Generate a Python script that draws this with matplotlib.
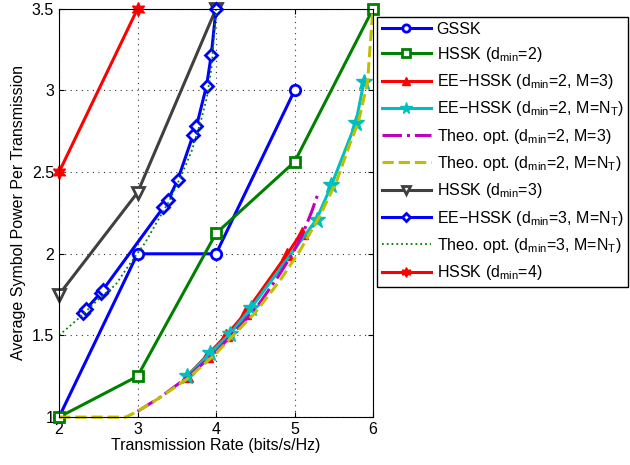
import numpy as np
import matplotlib
matplotlib.use("Agg")
import matplotlib.pyplot as plt

plt.rcParams['font.family'] = ['Liberation Sans', 'DejaVu Sans']
plt.rcParams['mathtext.fontset'] = 'custom'
plt.rcParams['mathtext.rm'] = 'Liberation Sans'

# data
gssk_x = [2, 3, 4, 5]
gssk_y = [1.0, 2.0, 2.0, 3.0]

hssk2_x = [2, 3, 4, 5, 6]
hssk2_y = [1.0, 1.25, 2.125, 2.5625, 3.5]

ee2m3_x = [3.63, 3.88, 4.13, 4.37, 4.91, 5.09]
ee2m3_y = [1.25, 1.375, 1.5, 1.635, 2.0, 2.13]

ee2nt_x = [3.63, 3.92, 4.18, 4.45, 5.28, 5.47, 5.78, 5.885]
ee2nt_y = [1.25, 1.39, 1.51, 1.67, 2.21, 2.42, 2.80, 3.055]

th2m3_x = [3.0, 3.3, 3.65, 4.0, 4.5, 4.79, 4.96, 5.09, 5.22, 5.30]
th2m3_y = [1.035, 1.125, 1.25, 1.40, 1.66, 1.86, 1.99, 2.105, 2.26, 2.37]

th2nt_x = [2.0, 2.5, 2.85, 3.0, 3.27, 3.65, 4.0, 4.5, 4.82, 5.07, 5.32, 5.54, 5.71, 5.81, 5.93, 5.96, 6.0]
th2nt_y = [1.0, 1.0, 1.0, 1.035, 1.115, 1.24, 1.39, 1.64, 1.84, 2.02, 2.23, 2.45, 2.68, 2.80, 3.05, 3.25, 3.5]

hssk3_x = [2, 3, 4]
hssk3_y = [1.75, 2.375, 3.5]

ee3nt_x = [2.31, 2.34, 2.53, 2.56, 3.33, 3.39, 3.51, 3.71, 3.75, 3.88, 3.94, 4.0]
ee3nt_y = [1.635, 1.66, 1.76, 1.78, 2.285, 2.33, 2.45, 2.73, 2.78, 3.03, 3.22, 3.5]

th3nt_x = [2.0, 2.25, 2.5, 2.72, 2.89, 3.10, 3.23, 3.40, 3.55, 3.69, 3.80, 3.88, 3.94, 3.97, 4.0]
th3nt_y = [1.5, 1.605, 1.72, 1.81, 1.93, 2.07, 2.18, 2.32, 2.47, 2.63, 2.80, 2.95, 3.13, 3.3, 3.5]

hssk4_x = [2, 3]
hssk4_y = [2.5, 3.5]

dm = r'd$_{\mathregular{min}}$'
nt = r'N$_{\mathregular{T}}$'

fig = plt.figure(figsize=(6.3, 4.65), dpi=100)
ax = fig.add_axes([0.0937, 0.103, 0.4984, 0.878])

lw = 2.2
kw = dict(lw=lw, clip_on=False)
ax.plot(gssk_x, gssk_y, '-o', color='#0000ff', ms=7.5, mfc='white', mew=2, label='GSSK', **kw)
ax.plot(hssk2_x, hssk2_y, '-s', color='#008000', ms=7.5, mfc='white', mew=2, label='HSSK (' + dm + '=2)', **kw)
ax.plot(ee2m3_x, ee2m3_y, '-^', color='#ff0000', ms=9, mew=1, label='EE\u2212HSSK (' + dm + '=2, M=3)', **kw)
ax.plot(ee2nt_x, ee2nt_y, '-*', color='#00bfbf', ms=12, mew=1, label='EE\u2212HSSK (' + dm + '=2, M=' + nt + ')', **kw)
ax.plot(th2m3_x, th2m3_y, '-.', color='#bf00bf', label='Theo. opt. (' + dm + '=2, M=3)', **kw)
ax.plot(th2nt_x, th2nt_y, '--', color='#bfbf00', label='Theo. opt. (' + dm + '=2, M=' + nt + ')', **kw)
ax.plot(hssk3_x, hssk3_y, '-v', color='#404040', ms=9, mfc='white', mew=2, label='HSSK (' + dm + '=3)', **kw)
ax.plot(ee3nt_x, ee3nt_y, '-D', color='#0000ff', ms=6, mfc='white', mew=2, label='EE\u2212HSSK (' + dm + '=3, M=' + nt + ')', **kw)
ax.plot(th3nt_x, th3nt_y, ':', color='#008000', lw=1.3, label='Theo. opt. (' + dm + '=3, M=' + nt + ')')
ax.plot(hssk4_x, hssk4_y, '-', marker=(6, 1, 0), color='#ff0000', ms=10, mew=1, label='HSSK (' + dm + '=4)', **kw)

ax.set_xlim(2, 6)
ax.set_ylim(1, 3.5)
ax.set_xticks([2, 3, 4, 5, 6])
ax.set_yticks([1, 1.5, 2, 2.5, 3, 3.5])
ax.set_yticklabels(['1', '1.5', '2', '2.5', '3', '3.5'])
ax.tick_params(direction='in', labelsize=11.5, top=True, right=True)
ax.grid(True, linestyle=(0, (1, 4)), color='#333333', lw=0.8)
ax.set_xlabel('Transmission Rate (bits/s/Hz)', fontsize=11.5, labelpad=1)
ax.set_ylabel('Average Symbol Power Per Transmission', fontsize=11.5, labelpad=4)

leg = fig.legend(loc='upper left', bbox_to_anchor=(0.598, 0.964), fontsize=11.5,
                 frameon=True, fancybox=False, edgecolor='black', framealpha=1,
                 handlelength=3.1, labelspacing=0.52, borderpad=0.3, handletextpad=0.35,
                 markerscale=0.7, borderaxespad=0)
leg.get_frame().set_linewidth(1)

fig.savefig('out.png', dpi=100)
